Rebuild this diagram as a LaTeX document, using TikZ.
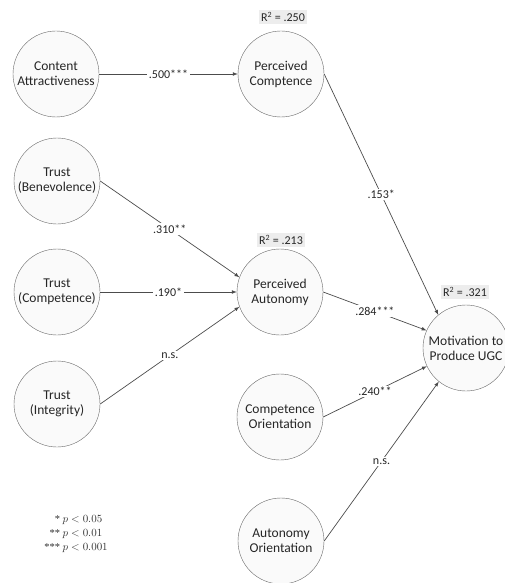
\documentclass[tikz,border=0pt]{standalone}
\usepackage{fontspec}
\setmainfont{Carlito}
\newfontfamily\legendfont{Liberation Serif}
\usetikzlibrary{shapes}
\usepgflibrary{arrows}

\begin{document}
\begin{tikzpicture}[x=1pt,y=-1pt,
  construct/.style={circle,draw=black!60,fill=black!2,minimum size=86pt,inner sep=0pt,
    align=center,text=black!85,font=\fontsize{13.5}{15}\selectfont},
  rsq/.style={fill=black!7,inner sep=2pt,text=black!85,font=\fontsize{12}{14}\selectfont},
  coef/.style={fill=white,inner sep=1.5pt,text=black!85,font=\fontsize{12}{14}\selectfont},
  path/.style={-latex,draw=black!70,line width=.7pt}]
\useasboundingbox (0,0) rectangle (504,583);
\node[construct] (attract) at (56,74) {Content\\Attractiveness};
\node[construct] (trustben) at (57,181) {Trust\\(Benevolence)};
\node[construct] (trustcom) at (57,292) {Trust\\(Competence)};
\node[construct] (trustint) at (57,404) {Trust\\(Integrity)};
\node[construct] (percom) at (281,74) {Perceived\\Comptence};
\node[construct] (peraut) at (280,292) {Perceived\\Autonomy};
\node[construct] (comori) at (280,417) {Competence\\Orientation};
\node[construct] (autori) at (281,541) {Autonomy\\Orientation};
\node[construct] (motiv) at (466,348) {Motivation to\\Produce UGC};
\node[rsq] (rpercom) at (283,17) {R\textsuperscript{2} = .250};
\node[rsq] (rperaut) at (281,240) {R\textsuperscript{2} = .213};
\node[rsq] (rmotiv) at (465,292) {R\textsuperscript{2} = .321};
\draw[path] (attract) -- node[coef] {.500***} (percom);
\draw[path] (trustben.east) -- node[coef] {.310**} (peraut.160);
\draw[path] (trustcom) -- node[coef] {.190*} (peraut);
\draw[path] (trustint.east) -- node[coef] {n.s.} (peraut.200);
\draw[path] (percom.east) -- node[coef] {.153*} (motiv.130);
\draw[path] (peraut.east) -- node[coef] {.284***} (motiv.156);
\draw[path] (comori.east) -- node[coef] {.240**} (motiv.205);
\draw[path] (autori.east) -- node[coef] {n.s.} (motiv.231);
\node[text=black!80,font=\legendfont\fontsize{10.5}{14}\selectfont] (legend) at (76,534)
  {\begin{tabular}{@{}r@{\ }l@{}}{}*&$p<0.05$\\{}**&$p<0.01$\\{}***&$p<0.001$\end{tabular}};
\end{tikzpicture}
\end{document}
